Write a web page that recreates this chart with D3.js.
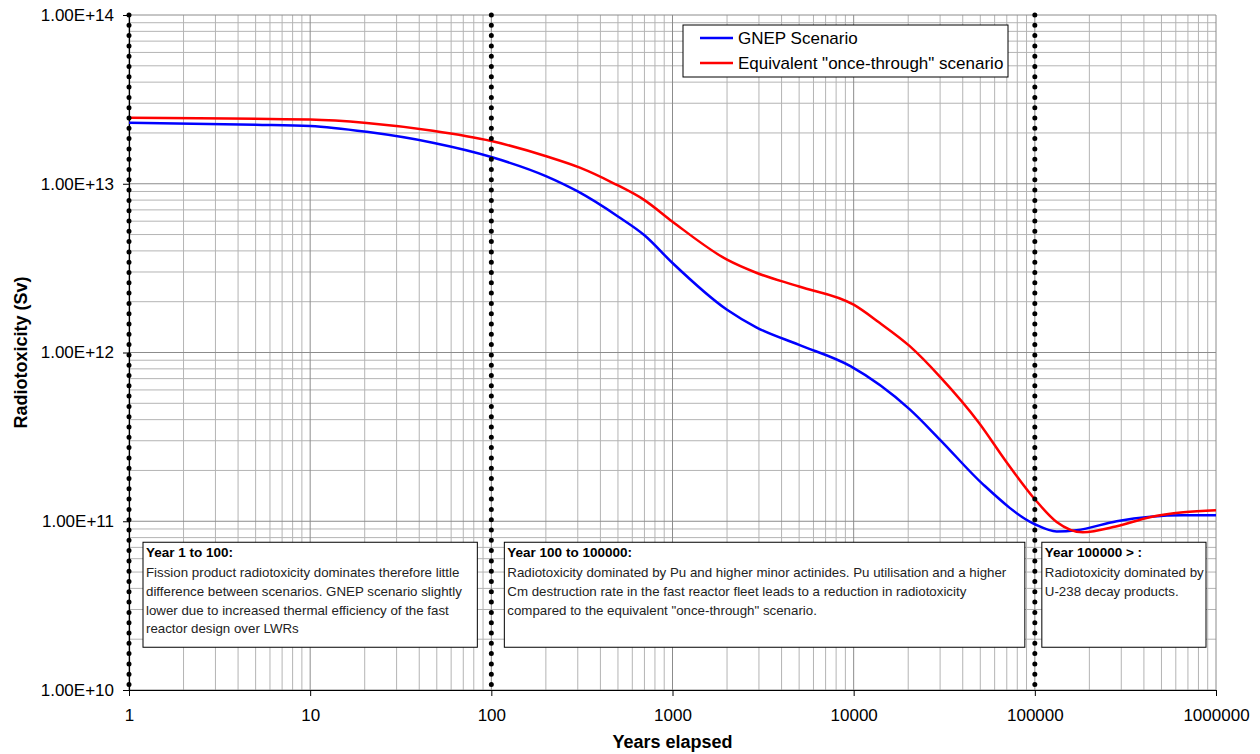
<!DOCTYPE html>
<html>
<head>
<meta charset="utf-8">
<script src="https://cdnjs.cloudflare.com/ajax/libs/d3/7.8.5/d3.min.js"></script>
<style>
  body { margin: 0; background: #fff; }
  text { font-family: "Liberation Sans", Arial, sans-serif; }
</style>
</head>
<body>
<div id="chart"></div>
<script>
var svgWidth = 1260;
var svgHeight = 754;

var margin = { top: 15, right: 44, bottom: 64, left: 129 };
var width = svgWidth - margin.left - margin.right;
var height = svgHeight - margin.top - margin.bottom;

// data
var years = [1, 5, 10, 20.5, 47.5, 100, 200, 300, 500, 700, 1000, 2000, 2900, 5000, 9600, 20400, 29900, 51600, 100000, 132000, 170000, 283000, 660000, 1000000];
var gnep = [2.30e13, 2.24e13, 2.20e13, 2.03e13, 1.75e13, 1.44e13, 1.11e13, 9.0e12, 6.4e12, 4.95e12, 3.39e12, 1.79e12, 1.41e12, 1.11e12, 8.3e11, 4.6e11, 3.05e11, 1.66e11, 9.6e10, 8.7e10, 8.85e10, 1.0e11, 1.085e11, 1.085e11];

var yearsOT = [1, 10, 20.5, 47.5, 100, 203, 308, 470, 700, 1000, 2000, 2900, 5000, 10000, 13900, 20400, 29900, 49000, 70000, 100000, 132000, 184000, 280000, 431000, 660000, 1000000];
var onceThrough = [2.46e13, 2.40e13, 2.29e13, 2.06e13, 1.79e13, 1.45e13, 1.245e13, 1.01e13, 8.0e12, 5.96e12, 3.55e12, 2.97e12, 2.46e12, 1.92e12, 1.50e12, 1.09e12, 7.2e11, 3.85e11, 2.23e11, 1.35e11, 9.9e10, 8.6e10, 9.3e10, 1.057e11, 1.13e11, 1.16e11];

var seriesNames = ["GNEP Scenario", "Equivalent \"once-through\" scenario"];
var seriesColors = ["#0000ff", "#ff0000"];
var yTicks = [1e10, 1e11, 1e12, 1e13, 1e14];
var xTicks = [1, 10, 100, 1000, 10000, 100000, 1000000];
var dividers = [1, 100, 100000];

var notes = [
  { x0: 1, x1: 100, title: "Year 1 to 100:",
    lines: ["Fission product radiotoxicity dominates therefore little",
            "difference between scenarios. GNEP scenario slightly",
            "lower due to increased thermal efficiency of the fast",
            "reactor design over LWRs"] },
  { x0: 100, x1: 100000, title: "Year 100 to 100000:",
    lines: ["Radiotoxicity dominated by Pu and higher minor actinides. Pu utilisation and a higher",
            "Cm destruction rate in the fast reactor fleet leads to a reduction in radiotoxicity",
            "compared to the equivalent \"once-through\" scenario."] },
  { x0: 100000, x1: 1000000, title: "Year 100000 > :",
    lines: ["Radiotoxicity dominated by", "U-238 decay products."] }
];

var svg = d3.select("#chart")
  .append("svg")
  .attr("width", svgWidth)
  .attr("height", svgHeight);

var chartGroup = svg.append("g")
  .attr("transform", `translate(${margin.left}, ${margin.top})`);

var xScale = d3.scaleLog().domain([1, 1e6]).range([0, width]);
var yScale = d3.scaleLog().domain([1e10, 1e14]).range([height, 0]);

// minor gridlines 2..9 per decade
var minorX = [], minorY = [];
xTicks.slice(0, -1).forEach(function(t) {
  for (var k = 2; k <= 9; k++) minorX.push(t * k);
});
yTicks.slice(0, -1).forEach(function(t) {
  for (var k = 2; k <= 9; k++) minorY.push(t * k);
});

var grid = chartGroup.append("g");
grid.selectAll(".mx").data(minorX).enter().append("line")
  .attr("x1", d => xScale(d)).attr("x2", d => xScale(d))
  .attr("y1", 0).attr("y2", height)
  .attr("stroke", "#b4b4b4").attr("stroke-width", 1);
grid.selectAll(".my").data(minorY).enter().append("line")
  .attr("x1", 0).attr("x2", width)
  .attr("y1", d => yScale(d)).attr("y2", d => yScale(d))
  .attr("stroke", "#b4b4b4").attr("stroke-width", 1);
grid.selectAll(".Mx").data(xTicks).enter().append("line")
  .attr("x1", d => xScale(d)).attr("x2", d => xScale(d))
  .attr("y1", 0).attr("y2", height)
  .attr("stroke", "#8c8c8c").attr("stroke-width", 1);
grid.selectAll(".My").data(yTicks).enter().append("line")
  .attr("x1", 0).attr("x2", width)
  .attr("y1", d => yScale(d)).attr("y2", d => yScale(d))
  .attr("stroke", "#8c8c8c").attr("stroke-width", 1);

// axes
var bottomAxis = d3.axisBottom(xScale).tickValues(xTicks)
  .tickFormat(d3.format("d")).tickSize(6).tickPadding(13);
var leftAxis = d3.axisLeft(yScale).tickValues(yTicks)
  .tickFormat(function(d) { return "1.00E+" + Math.round(Math.log10(d)); })
  .tickSize(6).tickPadding(9);

var xAxisG = chartGroup.append("g")
  .attr("transform", `translate(0, ${height})`)
  .call(bottomAxis);
var yAxisG = chartGroup.append("g").call(leftAxis);

[xAxisG, yAxisG].forEach(function(g) {
  g.select(".domain").attr("stroke", "#000").attr("stroke-width", 1.2);
  g.selectAll(".tick line").attr("stroke", "#000");
  g.selectAll(".tick text").attr("font-size", 17).attr("fill", "#000")
    .style("font-family", "'Liberation Sans', Arial, sans-serif");
});
xAxisG.select(".domain").attr("d", `M0,0.5H${width}`);
yAxisG.select(".domain").attr("d", `M0.5,${height}V0`);

// text boxes
var noteGroup = chartGroup.append("g");
notes.forEach(function(n, i) {
  var left = xScale(n.x0) + (i === 0 ? 14 : (i === 1 ? 13 : 7));
  var right = xScale(n.x1) - (i === 0 ? 14 : (i === 1 ? 10 : 10));
  var top = yScale(1e11) + 21;
  var g = noteGroup.append("g");
  g.append("rect")
    .attr("x", left).attr("y", top)
    .attr("width", right - left).attr("height", 105)
    .attr("fill", "#fff").attr("stroke", "#000").attr("stroke-width", 1);
  g.append("text")
    .attr("x", left + 3).attr("y", top + 15)
    .attr("font-size", 13.5).attr("font-weight", "bold")
    .text(n.title);
  n.lines.forEach(function(l, j) {
    g.append("text")
      .attr("x", left + 3).attr("y", top + 35 + j * 18.7)
      .attr("font-size", 13.3).attr("fill", "#222")
      .text(l);
  });
});

// curves
var line = d3.line()
  .x(d => xScale(d[0]))
  .y(d => yScale(d[1]))
  .curve(d3.curveMonotoneX);

var blueData = years.map((y, i) => [y, gnep[i]]);
var redData = yearsOT.map((y, i) => [y, onceThrough[i]]);

chartGroup.append("path").datum(blueData)
  .attr("d", line).attr("fill", "none")
  .attr("stroke", seriesColors[0]).attr("stroke-width", 2.5);
chartGroup.append("path").datum(redData)
  .attr("d", line).attr("fill", "none")
  .attr("stroke", seriesColors[1]).attr("stroke-width", 2.5);

// dotted dividers
chartGroup.selectAll(".divider").data(dividers).enter().append("line")
  .attr("x1", d => xScale(d)).attr("x2", d => xScale(d))
  .attr("y1", 0).attr("y2", height)
  .attr("stroke", "#000").attr("stroke-width", 5)
  .attr("stroke-linecap", "round")
  .attr("stroke-dasharray", "0 10.3");

// legend
var legend = chartGroup.append("g")
  .attr("transform", `translate(${683 - margin.left}, ${25 - margin.top})`);
legend.append("rect")
  .attr("width", 325).attr("height", 52)
  .attr("fill", "#fff").attr("stroke", "#000").attr("stroke-width", 1);
seriesNames.forEach(function(name, i) {
  var yy = 13 + i * 25;
  legend.append("line")
    .attr("x1", 17).attr("x2", 50).attr("y1", yy).attr("y2", yy)
    .attr("stroke", seriesColors[i]).attr("stroke-width", 2.5);
  legend.append("text")
    .attr("x", 55).attr("y", yy + 6)
    .attr("font-size", 17).text(name);
});

// axis titles
chartGroup.append("text")
  .attr("transform", "rotate(-90)")
  .attr("x", 0 - height / 2)
  .attr("y", 0 - margin.left + 27)
  .attr("text-anchor", "middle")
  .attr("font-size", 18).attr("font-weight", "bold")
  .text("Radiotoxicity (Sv)");

chartGroup.append("text")
  .attr("x", width / 2)
  .attr("y", height + 58)
  .attr("text-anchor", "middle")
  .attr("font-size", 18).attr("font-weight", "bold")
  .text("Years elapsed");
</script>
</body>
</html>
